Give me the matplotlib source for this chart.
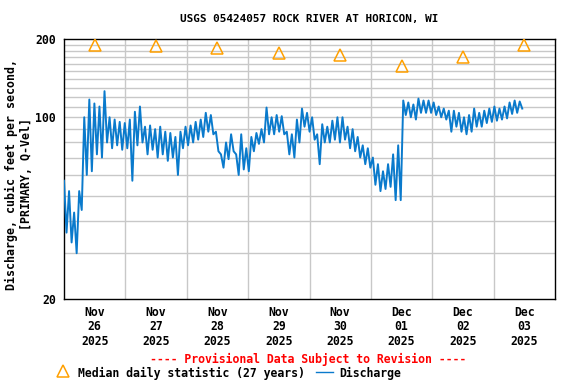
import matplotlib
matplotlib.use("Agg")
import matplotlib.pyplot as plt
from matplotlib.lines import Line2D
import numpy as np

# ---- data ----
title = "USGS 05424057 ROCK RIVER AT HORICON, WI"
day_labels = ["Nov\n26\n2025", "Nov\n27\n2025", "Nov\n28\n2025", "Nov\n29\n2025",
              "Nov\n30\n2025", "Dec\n01\n2025", "Dec\n02\n2025", "Dec\n03\n2025"]
median_days = [0.5, 1.5, 2.5, 3.5, 4.5, 5.5, 6.5, 7.5]
median_vals = [190, 188, 185, 177, 173, 157, 170, 190]

# discharge envelope, every 2 hours from Nov 26 00:00 (high / low readings)
q_high = [57, 52, 43, 52, 100, 117, 113, 110, 126, 100, 98, 96,
          95, 98, 105, 110, 92, 93, 90, 92, 88, 87, 84, 88,
          92, 93, 96, 98, 104, 102, 88, 72, 80, 86, 72, 86,
          76, 84, 87, 90, 109, 100, 102, 101, 88, 86, 98, 108,
          104, 100, 86, 94, 92, 97, 100, 100, 92, 90, 84, 78,
          76, 70, 66, 62, 66, 72, 78, 116, 114, 112, 118, 116,
          116, 114, 110, 108, 106, 106, 104, 100, 102, 108, 104, 106,
          108, 110, 108, 110, 114, 116, 115]
q_low = [36, 33, 30, 44, 60, 62, 72, 70, 80, 76, 78, 75,
         76, 57, 78, 80, 72, 75, 70, 72, 68, 70, 60, 76,
         78, 80, 82, 84, 88, 86, 74, 64, 69, 74, 60, 63,
         62, 74, 79, 80, 86, 86, 88, 86, 72, 70, 80, 92,
         88, 82, 66, 80, 80, 82, 80, 82, 76, 74, 70, 66,
         64, 55, 52, 53, 54, 48, 48, 102, 100, 98, 104, 104,
         104, 102, 100, 98, 88, 92, 88, 86, 88, 92, 92, 95,
         96, 97, 98, 99, 103, 104, 108]

# interleave high/low readings (time in days since Nov 26 00:00)
t = []
q = []
for i, (h, l) in enumerate(zip(q_high, q_low)):
    t.append((1.98 * i) / 24.0)
    q.append(h)
    t.append((1.98 * i + 0.99) / 24.0)
    q.append(l)

FONT = "DejaVu Sans Mono"
BLUE = "#0a7acc"
ORANGE = "#ffa000"
GRID = "#c8c8c8"

W, H = 576, 384
fig = plt.figure(figsize=(W / 100, H / 100), dpi=100)
ax = fig.add_axes([64 / W, 1 - 299 / H, (555 - 64) / W, (299 - 39) / H])

ax.plot(t, q, color=BLUE, lw=1.4, zorder=3)
ax.plot(median_days, median_vals, linestyle="none", marker="^", markersize=8,
        markerfacecolor="none", markeredgecolor=ORANGE, markeredgewidth=1.1, zorder=4)

ax.set_yscale("log")
ax.set_ylim(20, 200)
ax.set_xlim(0, 8)

yt = list(range(20, 210, 10))
ax.set_yticks(yt)
ax.set_yticklabels([str(v) if v in (20, 100, 200) else "" for v in yt])
ax.yaxis.set_minor_locator(matplotlib.ticker.NullLocator())
ax.set_xticks(median_days)
ax.set_xticklabels(day_labels)
ax.set_xticks(np.arange(0, 9), minor=True)

ax.grid(False)
for v in yt[1:-1]:
    ax.axhline(v, color=GRID, lw=1.0, zorder=1)
for d in range(1, 8):
    ax.axvline(d, color=GRID, lw=1.0, zorder=1)

ax.tick_params(axis="both", which="both", length=0)
ax.tick_params(axis="y", pad=6)
ax.tick_params(axis="x", pad=5)
for lab in ax.get_yticklabels() + ax.get_xticklabels():
    lab.set_fontfamily(FONT)
    lab.set_fontweight("bold")
    lab.set_fontsize(8.3)
for lab in ax.get_xticklabels():
    lab.set_linespacing(1.15)

for s in ax.spines.values():
    s.set_color("black")
    s.set_linewidth(1.0)

fig.text(309.5 / W, 1 - 19 / H, title, ha="center", va="center",
         fontfamily=FONT, fontweight="bold", fontsize=7.9)

fig.text(19 / W, 1 - 174 / H, "Discharge, cubic feet per second,\n[PRIMARY, Q-Vel]",
         rotation=90, ha="center", va="center", multialignment="center",
         fontfamily=FONT, fontweight="bold", fontsize=8.4, linespacing=1.2)

fig.text(308.5 / W, 1 - 359 / H, "---- Provisional Data Subject to Revision ----",
         color="red", ha="center", va="center",
         fontfamily=FONT, fontweight="bold", fontsize=8.3)

# legend row
fig.add_artist(Line2D([63.3 / W], [1 - 371 / H], linestyle="none", marker="^",
                      markersize=8, markerfacecolor="none", markeredgecolor=ORANGE,
                      markeredgewidth=1.1, transform=fig.transFigure))
fig.text(77.7 / W, 1 - 373 / H, "Median daily statistic (27 years)", ha="left", va="center",
         fontfamily=FONT, fontweight="bold", fontsize=8.3)
fig.add_artist(Line2D([316 / W, 333 / W], [1 - 372 / H, 1 - 372 / H], color=BLUE, lw=1.0,
                      transform=fig.transFigure))
fig.text(339.3 / W, 1 - 373 / H, "Discharge", ha="left", va="center",
         fontfamily=FONT, fontweight="bold", fontsize=8.3)

fig.savefig("out.png", dpi=100)
